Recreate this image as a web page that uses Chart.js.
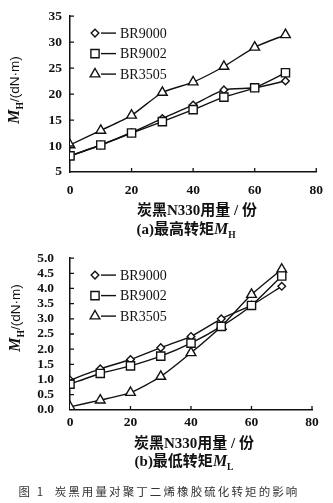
<!DOCTYPE html>
<html>
<head>
<meta charset="utf-8">
<script src="https://cdn.jsdelivr.net/npm/chart.js@4/dist/chart.umd.min.js"></script>
<style>
  html, body { margin: 0; padding: 0; background: #fff; }
  body { width: 333px; height: 503px; position: relative; overflow: hidden; }
  .panel { position: absolute; left: 0; width: 333px; }
  .txt { position: absolute; white-space: nowrap; color: #111; transform: translate(-50%, -50%); }
  .ytitle { transform: translate(-50%, -50%) rotate(-90deg); font-family: "Liberation Sans", sans-serif; font-size: 13.5px; }
  .ytitle i { font-family: "Liberation Serif", serif; font-size: 16px; font-weight: bold; }
  .ytitle sub { font-family: "Liberation Serif", serif; font-size: 9.5px; font-weight: bold; }
  .xtitle { font-family: "Liberation Serif", "Noto Sans CJK SC", serif; font-weight: bold; font-size: 15px; }
  .cap { font-family: "Liberation Serif", "Noto Sans CJK SC", serif; font-weight: bold; font-size: 15px; }
  .cap i { font-size: 16px; }
  .cap sub { font-size: 9.5px; }
  .fig { font-family: "Noto Sans CJK SC", sans-serif; font-size: 11.5px; color: #333; letter-spacing: 2.1px; }
</style>
</head>
<body>
<div class="panel" style="top:0;height:200px"><canvas id="chartMH" width="333" height="200"></canvas></div>
<div class="panel" style="top:234px;height:200px"><canvas id="chartML" width="333" height="200"></canvas></div>

<div class="txt ytitle" style="left:15px;top:90px"><i>M</i><sub>H</sub>/(dN·m)</div>
<div class="txt ytitle" style="left:16px;top:318px"><i>M</i><sub>H</sub>/(dN·m)</div>

<div class="txt xtitle" style="left:197px;top:208px">炭黑N330用量 / 份</div>
<div class="txt cap" style="left:186px;top:228px">(a)最高转矩<i>M</i><sub>H</sub></div>

<div class="txt xtitle" style="left:194px;top:441px">炭黑N330用量 / 份</div>
<div class="txt cap" style="left:184px;top:460px">(b)最低转矩<i>M</i><sub>L</sub></div>

<div class="txt fig" style="left:159px;top:491px">图 1&nbsp;&nbsp;炭黑用量对聚丁二烯橡胶硫化转矩的影响</div>

<script>
// Carbon black N330 loading (phr)
const doseLevels = [0, 10, 20, 30, 40, 50, 60, 70];
const seriesNames = ['BR9000', 'BR9002', 'BR3505'];

// Maximum torque M_H, dN·m
const mhBR9000 = [8.1, 10.2, 12.6, 15.3, 17.9, 20.8, 21.2, 22.5];
const mhBR9002 = [8.1, 10.2, 12.5, 14.7, 17.0, 19.4, 21.2, 24.1];
const mhBR3505 = [10.2, 13.0, 15.9, 20.3, 22.3, 25.3, 29.0, 31.4];

// Minimum torque M_L, dN·m
const mlBR9000 = [0.98, 1.35, 1.66, 2.05, 2.42, 3.0, 3.45, 4.07];
const mlBR9002 = [0.85, 1.2, 1.45, 1.77, 2.2, 2.75, 3.44, 4.41];
const mlBR3505 = [0.1, 0.32, 0.57, 1.1, 1.88, 2.75, 3.8, 4.63];

// Axis tick labels
const xTicks = [0, 20, 40, 60, 80];
const yTicksMH = [5, 10, 15, 20, 25, 30, 35];
const yTicksML = ['0.0', '0.5', '1.0', '1.5', '2.0', '2.5', '3.0', '3.5', '4.0', '4.5', '5.0'];

const markerStyles = [
  { pointStyle: 'rectRot', radius: 3.8 },
  { pointStyle: 'rect', radius: 5.8 },
  { pointStyle: 'triangle', radius: 5.6 }
];
const drawOrder = [1, 0, 2];

Chart.defaults.font.family = '"Liberation Serif", serif';
Chart.defaults.font.weight = 'bold';
Chart.defaults.font.size = 13.5;
Chart.defaults.color = '#111';

function makeDatasets(valueSets) {
  return valueSets.map((vals, i) => ({
    label: seriesNames[i],
    data: doseLevels.map((x, j) => ({ x: x, y: vals[j] })),
    borderColor: '#111',
    borderWidth: 1.4,
    backgroundColor: '#fff',
    pointBackgroundColor: '#fff',
    pointBorderColor: '#111',
    pointBorderWidth: 1.4,
    pointStyle: markerStyles[i].pointStyle,
    pointRadius: markerStyles[i].radius,
    tension: 0.2,
    order: drawOrder[i],
    fill: false
  }));
}

function drawMarker(ctx, style, radius, x, y) {
  if (Chart.helpers && Chart.helpers.drawPoint) {
    Chart.helpers.drawPoint(ctx, { pointStyle: style, radius: radius, rotation: 0, borderWidth: 1.4 }, x, y);
  }
}

// Inward tick marks on both axes plus the marker-and-line key
const axisDecor = {
  id: 'axisDecor',
  afterDraw(chart, args, opts) {
    const ctx = chart.ctx;
    const area = chart.chartArea;
    const xs = chart.scales.x, ys = chart.scales.y;
    ctx.save();
    ctx.strokeStyle = '#111';
    ctx.lineWidth = 1.3;
    ctx.beginPath();
    xs.ticks.forEach(t => {
      const px = xs.getPixelForValue(t.value);
      if (t.value === xs.min) return;
      ctx.moveTo(px, area.bottom);
      ctx.lineTo(px, area.bottom - 4);
    });
    ys.ticks.forEach(t => {
      const py = ys.getPixelForValue(t.value);
      if (t.value === ys.min) return;
      ctx.moveTo(area.left, py);
      ctx.lineTo(area.left + 4, py);
    });
    ctx.stroke();

    // key
    chart.data.datasets.forEach((ds, i) => {
      const y = area.top + opts.top + i * opts.gap;
      ctx.strokeStyle = '#111';
      ctx.lineWidth = 1.4;
      ctx.beginPath();
      ctx.moveTo(opts.x + 6, y);
      ctx.lineTo(opts.x + 21, y);
      ctx.stroke();
      ctx.fillStyle = '#fff';
      drawMarker(ctx, ds.pointStyle, ds.pointRadius, opts.x, y);
      ctx.fillStyle = '#111';
      ctx.font = '14px "Liberation Serif", serif';
      ctx.textBaseline = 'middle';
      ctx.textAlign = 'left';
      ctx.fillText(ds.label, opts.x + 25, y + 1);
    });
    ctx.restore();
  }
};

function makeChart(id, valueSets, yTicks, cfg) {
  return new Chart(document.getElementById(id), {
    type: 'line',
    data: { datasets: makeDatasets(valueSets) },
    plugins: [axisDecor],
    options: {
      responsive: false,
      animation: false,
      layout: { padding: { left: 0, right: cfg.padRight, top: 8, bottom: 0 } },
      plugins: {
        legend: { display: false },
        tooltip: { enabled: false },
        axisDecor: { x: 95, top: 17, gap: 20.5 }
      },
      scales: {
        x: {
          type: 'linear',
          min: 0, max: 80,
          afterBuildTicks: s => { s.ticks = xTicks.map(v => ({ value: v })); },
          afterFit: s => { s.height = cfg.xHeight; },
          grid: { display: false, drawTicks: false },
          border: { display: true, color: '#111', width: 1.5 },
          ticks: { padding: cfg.xPad, maxRotation: 0, autoSkip: false }
        },
        y: {
          type: 'linear',
          min: Number(yTicks[0]), max: Number(yTicks[yTicks.length - 1]),
          afterBuildTicks: s => { s.ticks = yTicks.map(v => ({ value: Number(v) })); },
          afterFit: s => { s.width = 70; },
          grid: { display: false, drawTicks: false },
          border: { display: true, color: '#111', width: 1.5 },
          ticks: {
            padding: cfg.yPad,
            autoSkip: false,
            callback: (v, i) => String(yTicks[i])
          }
        }
      }
    }
  });
}

makeChart('chartMH', [mhBR9000, mhBR9002, mhBR3505], yTicksMH, { padRight: 10, xHeight: 28, xPad: 10, yPad: 8 });
makeChart('chartML', [mlBR9000, mlBR9002, mlBR3505], yTicksML, { padRight: 21, xHeight: 23, xPad: 5, yPad: 16 });
</script>
</body>
</html>
